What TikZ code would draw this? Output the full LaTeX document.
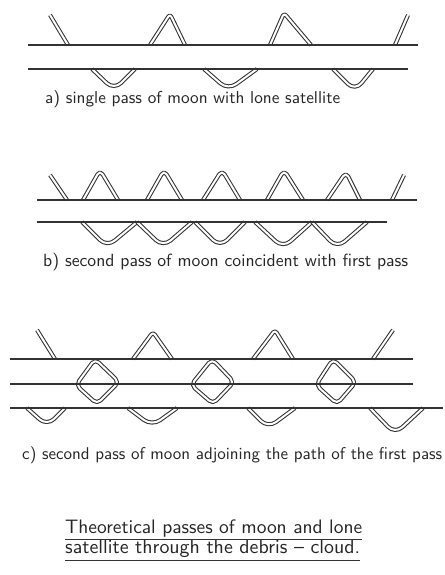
\documentclass[tikz,border=0pt]{standalone}
\usepackage{graphicx}
\begin{document}
\begin{tikzpicture}[x=1pt,y=-1pt,
  hline/.style={draw=black!80, line width=1.2pt},
  dbl/.style={draw=black!80, double=white, double distance=2pt, line width=1.05pt, rounded corners=3pt, line join=round},
  rdbl/.style={dbl, rounded corners=5pt},
  bowl/.style={dbl, rounded corners=10pt},
  captxt/.style={anchor=west, inner sep=0pt, text=black!85, font=\sffamily}
]
\useasboundingbox[fill=white] (0,0) rectangle (444,575);
% ---------- panel a ----------
\draw[dbl] (50,15) -- (68,45);
\draw[dbl] (150,45) -- (170,14) -- (185,45);
\draw[dbl] (270,45) -- (284,13) -- (311,45);
\draw[dbl] (395,45) -- (408,15);
\draw[hline] (28,45) -- (418,45);
\draw[bowl] (92,69) -- (114,90) -- (135,69);
\draw[bowl] (204,69) -- (228,90) -- (257,69);
\draw[bowl] (333,69) -- (355,91) -- (373,69);
\draw[hline] (28,69) -- (408,69);
\node[captxt] (capa) at (45,99) {\resizebox{295pt}{!}{a) single pass of moon with lone satellite}};
% ---------- panel b ----------
\draw[dbl] (50,175) -- (67,200);
\draw[rdbl] (83,200) -- (100,170) -- (118,200);
\draw[rdbl] (147,200) -- (164,170) -- (182,200);
\draw[rdbl] (203,200) -- (222,170) -- (240,200);
\draw[rdbl] (267,200) -- (284,170) -- (303,200);
\draw[rdbl] (327,200) -- (346,172) -- (360,200);
\draw[dbl] (392,200) -- (404,175);
\draw[hline] (37,200) -- (417,200);
\draw[bowl] (82,222) -- (107,247) -- (137,222);
\draw[bowl] (137,222) -- (163,247) -- (192,222);
\draw[bowl] (195,222) -- (220,247) -- (245,222);
\draw[bowl] (255,222) -- (283,248) -- (312,222);
\draw[bowl] (312,222) -- (337,248) -- (367,222);
\draw[hline] (37,222) -- (387,222);
\node[captxt] (capb) at (43,262) {\resizebox{365pt}{!}{b) second pass of moon coincident with first pass}};
% ---------- panel c ----------
\draw[dbl] (37,330) -- (55,359);
\draw[dbl] (133,359) -- (153,332) -- (172,359);
\draw[dbl] (253,359) -- (275,330) -- (293,359);
\draw[dbl] (373,359) -- (393,330);
\draw[hline] (10,359) -- (413,359);
\draw[dbl, rounded corners=5pt] (95,359) -- (119,382) -- (97,404) -- (76,385) -- cycle;
\draw[dbl, rounded corners=5pt] (212,359) -- (234,382) -- (213,404) -- (191,385) -- cycle;
\draw[dbl, rounded corners=5pt] (333,359) -- (356,382) -- (337,404) -- (316,385) -- cycle;
\draw[hline] (10,384) -- (413,384);
\draw[bowl] (27,408) -- (47,426) -- (65,408);
\draw[bowl] (128,408) -- (152,426) -- (177,408);
\draw[bowl] (248,408) -- (268,428) -- (295,408);
\draw[bowl] (370,408) -- (395,434) -- (423,408);
\draw[hline] (10,408) -- (443,408);
\node[captxt] (capc) at (22,455) {\resizebox{420pt}{!}{c) second pass of moon adjoining the path of the first pass}};
% ---------- title ----------
\node[captxt] (t1) at (65,529) {\resizebox{297pt}{!}{Theoretical passes of moon and lone}};
\node[captxt] (t2) at (65,549) {\resizebox{295pt}{!}{satellite through the debris -- cloud.}};
\draw[black!80, line width=0.9pt] ([yshift=-2pt]t1.south west) -- ([yshift=-2pt]t1.south east);
\draw[black!80, line width=0.9pt] ([yshift=-2pt]t2.south west) -- ([yshift=-2pt]t2.south east);
\end{tikzpicture}
\end{document}
